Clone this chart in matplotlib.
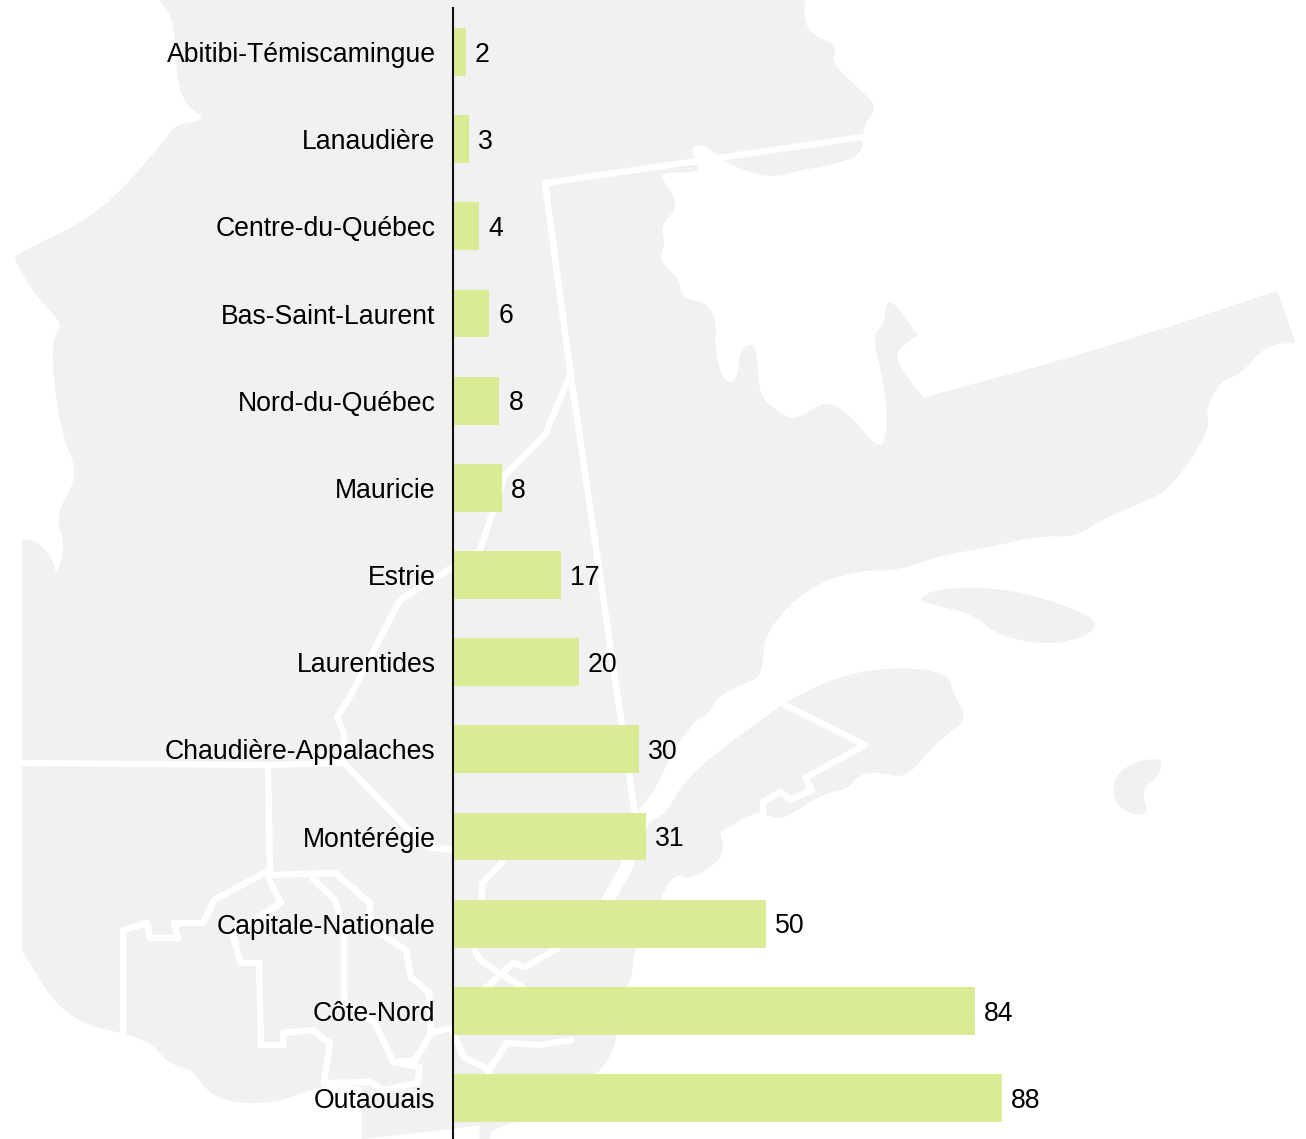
import matplotlib
matplotlib.use("Agg")
import matplotlib.pyplot as plt
from matplotlib.patches import PathPatch
from matplotlib.path import Path

plt.rcParams['font.family'] = ['Liberation Sans', 'DejaVu Sans']

regions = ["Abitibi-Témiscamingue", "Lanaudière", "Centre-du-Québec", "Bas-Saint-Laurent",
           "Nord-du-Québec", "Mauricie", "Estrie", "Laurentides", "Chaudière-Appalaches",
           "Montérégie", "Capitale-Nationale", "Côte-Nord", "Outaouais"]
values = [2.1, 2.6, 4.3, 5.9, 7.5, 7.9, 17.3, 20.2, 29.8, 30.9, 50.2, 83.6, 87.9]
value_labels = ["2", "3", "4", "6", "8", "8", "17", "20", "30", "31", "50", "84", "88"]

BAR = "#DAEB96"
MAP = "#F1F1F1"

# Decorative background map outline, in image pixels
land = [(160,0),(805,0),(803,15),(810,35),(838,45),(830,62),(860,90),(878,108),(862,125),(863,155),
        (830,165),(800,170),(770,178),(730,165),(712,150),(700,143),(688,150),(703,172),(672,172),(658,175),
        (680,205),(660,225),(665,245),(658,260),(680,280),(680,298),(708,303),(717,325),(714,345),(722,382),
        (738,382),(740,348),(757,343),(758,395),(775,410),(795,422),(825,400),(850,415),(880,452),(888,430),
        (885,385),(872,335),(885,325),(885,303),(895,303),(917,335),(890,355),(923,398),(1100,350),(1277,291),
        (1295,342),(1265,345),(1240,375),(1220,380),(1205,410),(1210,430),(1170,490),(1135,505),(1100,520),
        (1075,537),(1040,535),(985,548),(940,555),(900,570),(860,570),(810,585),(765,630),(762,670),(755,680),
        (720,693),(707,715),(695,720),(685,735),(675,745),(655,790),(645,800),(636,815),(650,822),(667,813),
        (683,783),(720,750),(785,703),(840,675),(900,667),(948,673),(953,695),(968,718),(945,735),(925,755),
        (905,778),(880,772),(860,773),(846,790),(825,792),(785,818),(770,817),(757,810),(720,832),(725,857),
        (690,880),(678,873),(665,885),(650,930),(634,948),(632,977),(620,1000),(616,1047),(598,1073),(560,1110),
        (491,1128),(490,1139),(480,1139),(480,1125),(362,1139),(362,1087),(326,1083),(272,1105),(214,1100),
        (192,1068),(170,1065),(147,1037),(67,1022),(22,950),(22,540),(35,540),(53,560),(56,578),(66,545),
        (55,515),(80,475),(60,430),(50,340),(65,325),(35,295),(15,260),(15,255),(100,215),(170,135),(175,125),(210,120),
        (178,100),(175,20)]
sharp_corners = {(160,0),(805,0),(923,398),(1277,291),(1295,342),(917,335),(490,1139),(480,1139),(480,1125),
                 (362,1139),(362,1087),(22,950),(22,540),(636,815),(650,822),(785,703),(720,832)}
anticosti = [(915,600),(940,588),(1000,588),(1060,603),(1106,625),(1060,646),(1000,637),(975,615),(945,607)]
magdalen = [(1114,770),(1162,755),(1160,775),(1140,790),(1150,818),(1114,808)]

borders = [
    [(863,137),(545,183),(570,370),(635,815)],
    [(570,375),(545,435),(505,475),(490,520),(480,550),(400,600),(348,700),(337,717),(344,733),(344,763)],
    [(20,763),(268,765),(344,763),(404,825),(428,847),(453,850)],
    [(268,765),(270,870)],
    [(270,870),(214,900),(203,923),(174,923),(178,938),(150,938),(147,923),(123,930),(123,1033)],
    [(270,875),(335,873),(370,903),(370,927),(406,950),(411,977),(429,993),(431,1033),(415,1060),(393,1062)],
    [(268,877),(281,903),(232,933),(241,963),(259,963),(261,1045),(283,1045),(283,1033),(312,1030),(330,1043),
     (324,1083),(370,1082),(384,1090),(417,1083),(420,1067),(393,1062)],
    [(312,878),(335,900),(344,933),(344,1000),(375,1023),(393,1062)],
    [(502,863),(482,883),(482,900),(475,950),(480,960),(522,987)],
    [(487,987),(513,963),(525,967),(558,948)],
    [(431,1033),(451,1028),(464,1057),(489,1070),(507,1043),(540,1045),(571,1040)],
    [(489,1070),(489,1095)],
    [(785,705),(865,745),(805,778),(812,790),(790,800),(780,792),(763,802),(763,812)],
]
river_channel = [(645,815),(625,870),(608,900)]


def smooth_path(points, sharp=frozenset()):
    """Round the outline's corners, keeping the ones listed in sharp."""
    pts = []
    for p in points:
        pts.append(p)
        if p in sharp:
            pts.append(p)
    n = len(pts)
    mid = lambda a, b: ((a[0]+b[0])/2, (a[1]+b[1])/2)
    verts = [mid(pts[-1], pts[0])]
    codes = [Path.MOVETO]
    for i in range(n):
        verts += [pts[i], mid(pts[i], pts[(i+1) % n])]
        codes += [Path.CURVE3, Path.CURVE3]
    verts.append(verts[0])
    codes.append(Path.CLOSEPOLY)
    return Path(verts, codes)


W, H = 1306, 1139
fig = plt.figure(figsize=(W/100, H/100), dpi=100, facecolor="white")

bg = fig.add_axes([0, 0, 1, 1])
bg.set_xlim(0, W)
bg.set_ylim(H, 0)
bg.axis("off")
bg.add_patch(PathPatch(smooth_path(land, sharp_corners), fc=MAP, ec=MAP, lw=0.5))
bg.add_patch(PathPatch(smooth_path(anticosti), fc=MAP, ec=MAP, lw=0.5))
bg.add_patch(PathPatch(smooth_path(magdalen), fc=MAP, ec=MAP, lw=0.5))
for line in borders:
    xs, ys = zip(*line)
    bg.plot(xs, ys, color="white", lw=4.6, solid_joinstyle="round", solid_capstyle="round")
xs, ys = zip(*river_channel)
bg.plot(xs, ys, color="white", lw=9, solid_capstyle="round")

ax = fig.add_axes([452.5/W, 0, (W-452.5)/W, (H-8)/H])
ax.patch.set_alpha(0)
y = list(range(len(regions)))
bars = ax.barh(y, values, height=0.55, color=BAR)
ax.set_xlim(0, (W-452.5)/6.25)
ax.set_ylim(12.47, -0.505)
ax.set_yticks(y, regions)
ax.set_xticks([])
ax.tick_params(axis="y", length=0, pad=12.2, labelsize=19.2, labelcolor="black")
for s in ("top", "right", "bottom"):
    ax.spines[s].set_visible(False)
ax.spines["left"].set_linewidth(1.5)
ax.spines["left"].set_color("#111111")
for b, lab in zip(bars, value_labels):
    ax.annotate(lab, (b.get_width(), b.get_y()+b.get_height()/2), xytext=(6.5, -2),
                textcoords="offset points", va="center", ha="left", fontsize=19.2, color="black")

fig.savefig("out.png", dpi=100)
